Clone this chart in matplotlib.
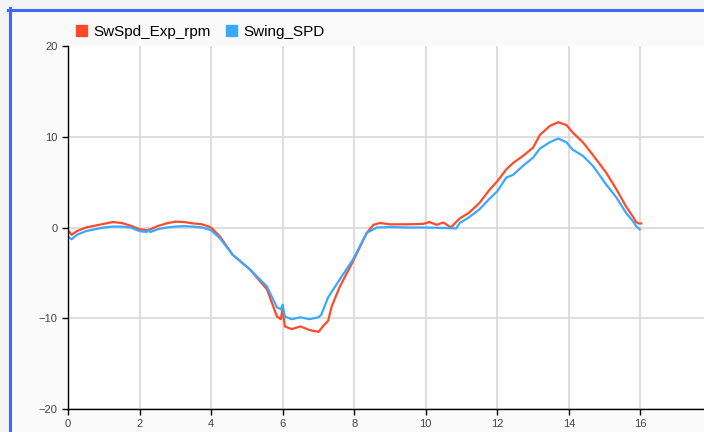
import matplotlib.pyplot as plt
from matplotlib.patches import Patch, Rectangle
from matplotlib.lines import Line2D

# data
t_exp = [0.0, 0.1, 0.25, 0.5, 0.75, 1.0, 1.25, 1.5, 1.75, 2.0, 2.25, 2.5, 2.75, 3.0,
         3.25, 3.5, 3.75, 4.0, 4.25, 4.6, 5.08, 5.56, 5.84, 5.95, 6.0, 6.06, 6.25,
         6.5, 6.75, 7.0, 7.17, 7.27, 7.37, 7.6, 7.97, 8.35, 8.54, 8.72, 9.0, 9.5,
         9.93, 10.1, 10.3, 10.5, 10.7, 10.95, 11.2, 11.5, 11.79, 12.0, 12.25,
         12.44, 12.72, 13.0, 13.19, 13.47, 13.7, 13.93, 14.1, 14.39, 14.67, 15.05,
         15.33, 15.6, 15.79, 15.88, 15.95, 16.02]
sw_exp = [-0.3, -0.8, -0.4, 0.0, 0.2, 0.4, 0.6, 0.5, 0.2, -0.2, -0.3, 0.15, 0.45, 0.65,
          0.6, 0.45, 0.35, 0.0, -1.0, -3.0, -4.6, -6.8, -9.8, -10.1, -8.9, -10.9, -11.2,
          -10.9, -11.3, -11.5, -10.7, -10.3, -8.7, -6.5, -3.7, -0.6, 0.3, 0.5, 0.35, 0.35,
          0.4, 0.6, 0.3, 0.55, 0.0, 1.0, 1.6, 2.7, 4.2, 5.1, 6.4,
          7.1, 7.9, 8.8, 10.2, 11.2, 11.6, 11.3, 10.5, 9.4, 8.0, 6.0,
          4.2, 2.3, 1.2, 0.6, 0.45, 0.45]

t_spd = [0.0, 0.1, 0.25, 0.5, 0.75, 1.0, 1.25, 1.5, 1.75, 2.0, 2.2, 2.25, 2.3, 2.5, 2.75,
         3.0, 3.25, 3.5, 3.75, 4.0, 4.25, 4.6, 5.08, 5.56, 5.84, 5.95, 6.0, 6.06, 6.25,
         6.5, 6.75, 7.0, 7.08, 7.27, 7.6, 7.97, 8.35, 8.63, 9.0, 9.5, 10.0, 10.5,
         10.85, 10.95, 11.2, 11.5, 11.79, 12.0, 12.25, 12.44, 12.72, 13.0, 13.19,
         13.47, 13.7, 13.93, 14.1, 14.39, 14.67, 15.05, 15.33, 15.6, 15.79, 15.88, 15.98]
swing_spd = [-1.0, -1.3, -0.8, -0.4, -0.2, 0.0, 0.1, 0.1, 0.0, -0.4, -0.5, -0.2, -0.5, -0.2, 0.0,
             0.1, 0.15, 0.1, 0.0, -0.3, -1.2, -3.0, -4.6, -6.5, -8.8, -9.0, -8.5, -9.8, -10.1,
             -9.9, -10.1, -9.9, -9.6, -7.7, -5.7, -3.5, -0.6, 0.0, 0.05, 0.0, 0.0, -0.05,
             -0.1, 0.5, 1.1, 2.0, 3.2, 4.0, 5.5, 5.8, 6.8, 7.7, 8.7,
             9.4, 9.8, 9.4, 8.6, 7.9, 6.8, 4.7, 3.3, 1.6, 0.7, 0.15, -0.2]

red = '#ff4a2a'
blue = '#3aa8ff'
frame_blue = '#4068fa'

fig = plt.figure(figsize=(7.04, 4.32), dpi=100, facecolor='#f3f3f3')
plt.rcParams['font.family'] = ['Liberation Sans', 'DejaVu Sans']

# window frame: lighter panel with a blue edge on the left and top
fig.add_artist(Rectangle((10/704, 0), 1, 1 - 10/432, facecolor='#fafafa',
                         edgecolor='none', transform=fig.transFigure, zorder=0))
fig.add_artist(Line2D([9.5/704, 9.5/704], [0, 1 - 8/432], color=frame_blue, lw=2.2,
                      transform=fig.transFigure))
fig.add_artist(Line2D([8/704, 1], [1 - 9.5/432, 1 - 9.5/432], color=frame_blue, lw=2.2,
                      transform=fig.transFigure))

ax = fig.add_axes([68/704, 23/432, 644/704, 363/432])
ax.set_facecolor('white')
ax.plot(t_exp, sw_exp, color=red, lw=1.6)
ax.plot(t_spd, swing_spd, color=blue, lw=1.6)

ax.set_xlim(0, 18)
ax.set_ylim(-20, 20)
ax.set_xticks(range(0, 19, 2))
ax.set_yticks([-20, -10, 0, 10, 20])
ax.grid(True, color='#d8d8d8', lw=1.2)
ax.set_axisbelow(True)
ax.yaxis.get_gridlines()[-1].set_visible(False)
for s in ('top', 'right'):
    ax.spines[s].set_visible(False)
ax.spines['left'].set_linewidth(1.0)
ax.spines['bottom'].set_linewidth(1.0)
ax.tick_params(labelsize=8, labelcolor='#444444', length=4, width=1.0)

handles = [Patch(color=red, label='SwSpd_Exp_rpm'), Patch(color=blue, label='Swing_SPD')]
fig.legend(handles=handles, loc='center left', bbox_to_anchor=(62/704, 1 - 32/432),
           ncol=2, frameon=False, fontsize=11, handlelength=0.75, handleheight=0.75,
           handletextpad=0.4, columnspacing=1.0)

fig.savefig('out.png', dpi=100, facecolor=fig.get_facecolor())
